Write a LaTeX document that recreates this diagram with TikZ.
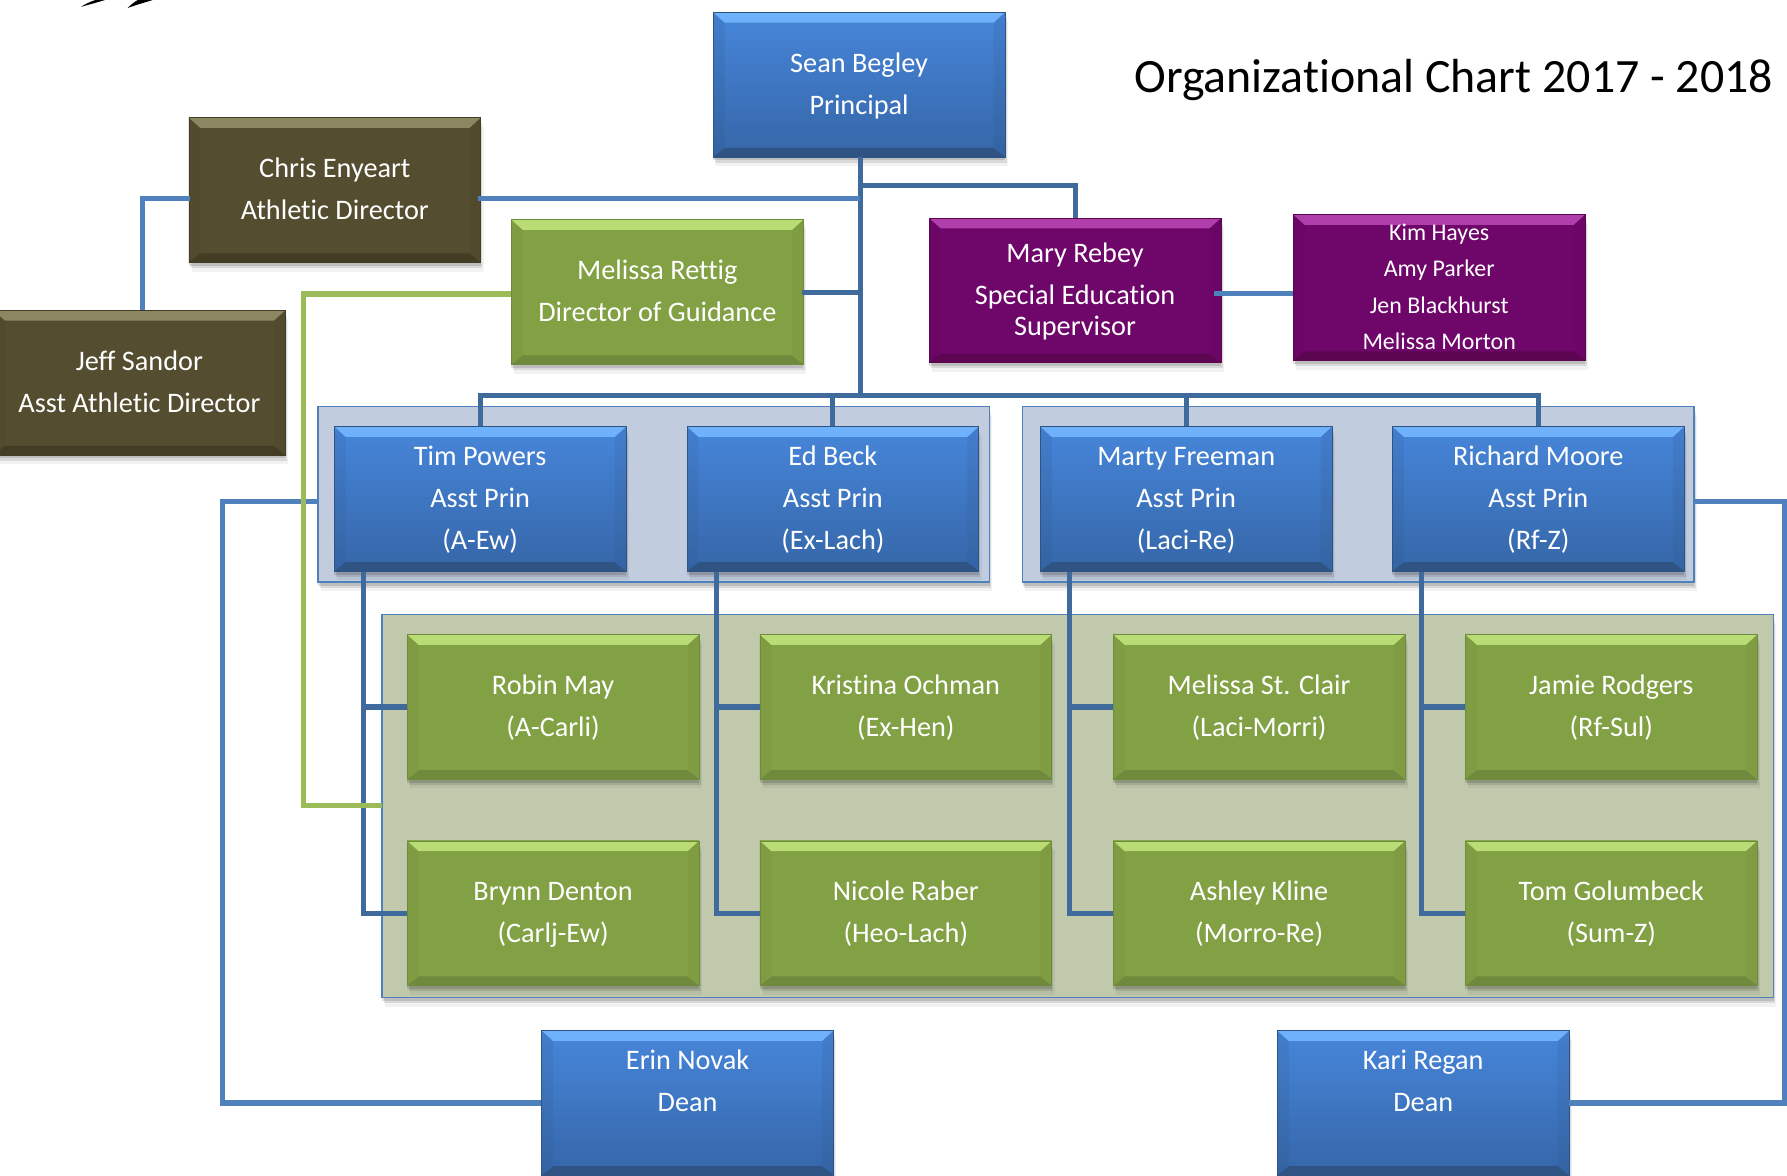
\documentclass[tikz,border=0pt]{standalone}
\usepackage{fontspec}
\setmainfont[Ligatures=NoCommon]{Carlito}
\usetikzlibrary{shadows,calc}
\definecolor{lnA}{HTML}{3F6A9C}
\definecolor{lnB}{HTML}{4F81BD}
\definecolor{lnG}{HTML}{9BBB59}
\definecolor{bandblue}{HTML}{C1CDDF}
\definecolor{bandgreen}{HTML}{C0C9AC}
\definecolor{blueT}{HTML}{4786DA}
\definecolor{blueM}{HTML}{3566A8}
\definecolor{blueL}{HTML}{6FB1FA}
\definecolor{blueD}{HTML}{2F5383}
\definecolor{greenM}{HTML}{82A044}
\definecolor{greenL}{HTML}{B9DC74}
\definecolor{greenD}{HTML}{6F8A3C}
\definecolor{brownM}{HTML}{544D2F}
\definecolor{brownL}{HTML}{8C8662}
\definecolor{brownD}{HTML}{443D25}
\definecolor{purpM}{HTML}{6F066A}
\definecolor{purpL}{HTML}{B03FAB}
\definecolor{purpD}{HTML}{5C0652}
\tikzset{
  x=1pt,y=-1pt,
  softshadow/.style={
    drop shadow={shadow xshift=0pt,shadow yshift=-3pt,fill=black,opacity=0.13},
    drop shadow={shadow xshift=1.5pt,shadow yshift=-5pt,fill=black,opacity=0.10},
    drop shadow={shadow xshift=2.5pt,shadow yshift=-8pt,fill=black,opacity=0.05}},
  orgbox/.style n args={4}{draw=#4,line width=0.6pt,minimum width=256pt,minimum height=127pt,inner sep=0pt,
    align=center,text=white,font=\fontsize{24.8}{37}\selectfont,
    softshadow,
    top color=#1,bottom color=#2,
    path picture={
      \coordinate (NW) at (path picture bounding box.north west);
      \coordinate (SE) at (path picture bounding box.south east);
      \fill[#4,opacity=0.15] (NW) -- (NW|-SE) -- ([shift={(10pt,9pt)}]NW|-SE) -- ([shift={(10pt,-10pt)}]NW) -- cycle;
      \fill[#4,opacity=0.15] (NW-|SE) -- (SE) -- ([shift={(-10pt,9pt)}]SE) -- ([shift={(-10pt,-10pt)}]NW-|SE) -- cycle;
      \fill[#3] (NW) -- (NW-|SE) -- ([shift={(-10pt,-9pt)}]NW-|SE) -- ([shift={(10pt,-9pt)}]NW) -- cycle;
      \fill[#4] (SE) -- (NW|-SE) -- ([shift={(10pt,8pt)}]NW|-SE) -- ([shift={(-10pt,8pt)}]SE) -- cycle;
    }},
  bluebox/.style={orgbox={blueT}{blueM}{blueL}{blueD}},
  greenbox/.style={orgbox={greenM}{greenM}{greenL}{greenD}},
  brownbox/.style={orgbox={brownM}{brownM}{brownL}{brownD}},
  purplebox/.style={orgbox={purpM}{purpM}{purpL}{purpD}},
  backdrop/.style={draw=lnB,line width=1.5pt,softshadow,inner sep=0pt,anchor=north west},
  link/.style={draw=lnA,line width=4.5pt,line join=miter},
  linkB/.style={draw=lnB,line width=4.5pt,line join=miter},
  linkG/.style={draw=lnG,line width=4.5pt,line join=miter},
}
\newcommand{\mybox}[5]{\node[#1,anchor=north west] (#2) at (#3,#4) {\strut#5\strut};}
\begin{document}
\begin{tikzpicture}
\useasboundingbox (0,0) rectangle (1568,1031);
\clip (0,0) rectangle (1568,1031);
% cut-off shapes at the top edge
\fill[black] (71,6) .. controls (76,3) and (80,1) .. (84,0) -- (92,0) .. controls (86,2) and (78,4) .. cycle;
\fill[black] (112,7) .. controls (116,3) and (119,1) .. (121,0) -- (134,0) .. controls (128,2) and (120,4) .. cycle;
% backdrops
\node[backdrop,fill=bandblue,minimum width=589pt,minimum height=154pt] (bandA) at (278.5,356) {};
\node[backdrop,fill=bandblue,minimum width=589pt,minimum height=154pt] (bandB) at (896.5,356) {};
\node[backdrop,fill=bandgreen,minimum width=1221pt,minimum height=336pt] (bandC) at (334.5,538.5) {};
% free corners
\coordinate (bus) at (755,347);
\coordinate (fork) at (755,163);
\coordinate (trunkL) at (266,258);
\coordinate (leftC) at (195,440);
\coordinate (rightC) at (1566,440);
\coordinate (bandCin) at (335,707);
% nodes
\mybox{bluebox}{sean}{625.5}{10.5}{Sean Begley\\Principal}
\mybox{brownbox}{chris}{165.5}{103}{Chris Enyeart\\Athletic Director}
\mybox{brownbox}{jeff}{-6}{272}{Jeff Sandor\\Asst Athletic Director}
\mybox{greenbox}{rettig}{448.5}{192.5}{Melissa Rettig\\Director of Guidance}
\mybox{purplebox}{mary}{815}{191}{Mary Rebey\\Special Education\\[-10pt]Supervisor}
\mybox{purplebox,font=\fontsize{21}{32}\selectfont}{kim}{1134.5}{188}{Kim Hayes\\Amy Parker\\Jen Blackhurst\\Melissa Morton}
\mybox{bluebox}{tim}{293}{374}{Tim Powers\\Asst Prin\\(A-Ew)}
\mybox{bluebox}{ed}{602.5}{374}{Ed Beck\\Asst Prin\\(Ex-Lach)}
\mybox{bluebox}{marty}{912.5}{374}{Marty Freeman\\Asst Prin\\(Laci-Re)}
\mybox{bluebox}{richard}{1221.5}{374}{Richard Moore\\Asst Prin\\(Rf-Z)}
\mybox{greenbox}{robin}{357}{556.5}{Robin May\\(A-Carli)}
\mybox{greenbox}{kristina}{666.5}{556.5}{Kristina Ochman\\(Ex-Hen)}
\mybox{greenbox}{stclair}{976.5}{556.5}{Melissa St. Clair\\(Laci-Morri)}
\mybox{greenbox}{jamie}{1285.5}{556.5}{Jamie Rodgers\\(Rf-Sul)}
\mybox{greenbox}{brynn}{357}{737.5}{Brynn Denton\\(Carlj-Ew)}
\mybox{greenbox}{nicole}{666.5}{737.5}{Nicole Raber\\(Heo-Lach)}
\mybox{greenbox}{ashley}{976.5}{737.5}{Ashley Kline\\(Morro-Re)}
\mybox{greenbox}{tom}{1285.5}{737.5}{Tom Golumbeck\\(Sum-Z)}
\mybox{bluebox}{erin}{475}{904}{Erin Novak\\Dean\\\mbox{}}
\mybox{bluebox}{kari}{1120.5}{904}{Kari Regan\\Dean\\\mbox{}}
\node[anchor=center,text=black,font=\fontsize{42}{50}\selectfont,inner sep=0pt] (title) at (1275.5,70) {Organizational Chart 2017 - 2018};
% connectors
\draw[link] (bus |- sean.south) -- (bus);
\draw[link] (fork) -| (mary.north);
\draw[linkB] ([xshift=-3pt,yshift=-7pt]chris.east) -- ([yshift=-7pt]chris.east -| bus);
\draw[link] ([xshift=-1pt]rettig.east) -- (rettig.east -| bus);
\draw[link] (tim.north) |- (bus) -| (richard.north);
\draw[link] (ed.north) -- (ed.north |- bus);
\draw[link] (marty.north) -- (marty.north |- bus);
\draw[linkB] ([xshift=-6pt,yshift=-3pt]mary.east) -- ([yshift=-3pt]mary.east -| kim.west);
\draw[linkB] ([xshift=1pt,yshift=-7pt]chris.west) -| ([xshift=3pt]jeff.north);
\draw[linkB] (bandA.west |- leftC) -- (leftC) |- (erin.west);
\draw[linkB] (bandB.east |- rightC) -- (rightC) |- (kari.east);
\foreach \top/\a/\b in {tim/robin/brynn,ed/kristina/nicole,marty/stclair/ashley,richard/jamie/tom}{
  \draw[link] ([xshift=26pt]\top.south west) |- (\a.west);
  \draw[link] ([xshift=26pt]\top.south west) |- (\b.west);
}
\draw[linkG] (rettig.west |- trunkL) -- (trunkL) |- (bandCin);
\end{tikzpicture}
\end{document}
